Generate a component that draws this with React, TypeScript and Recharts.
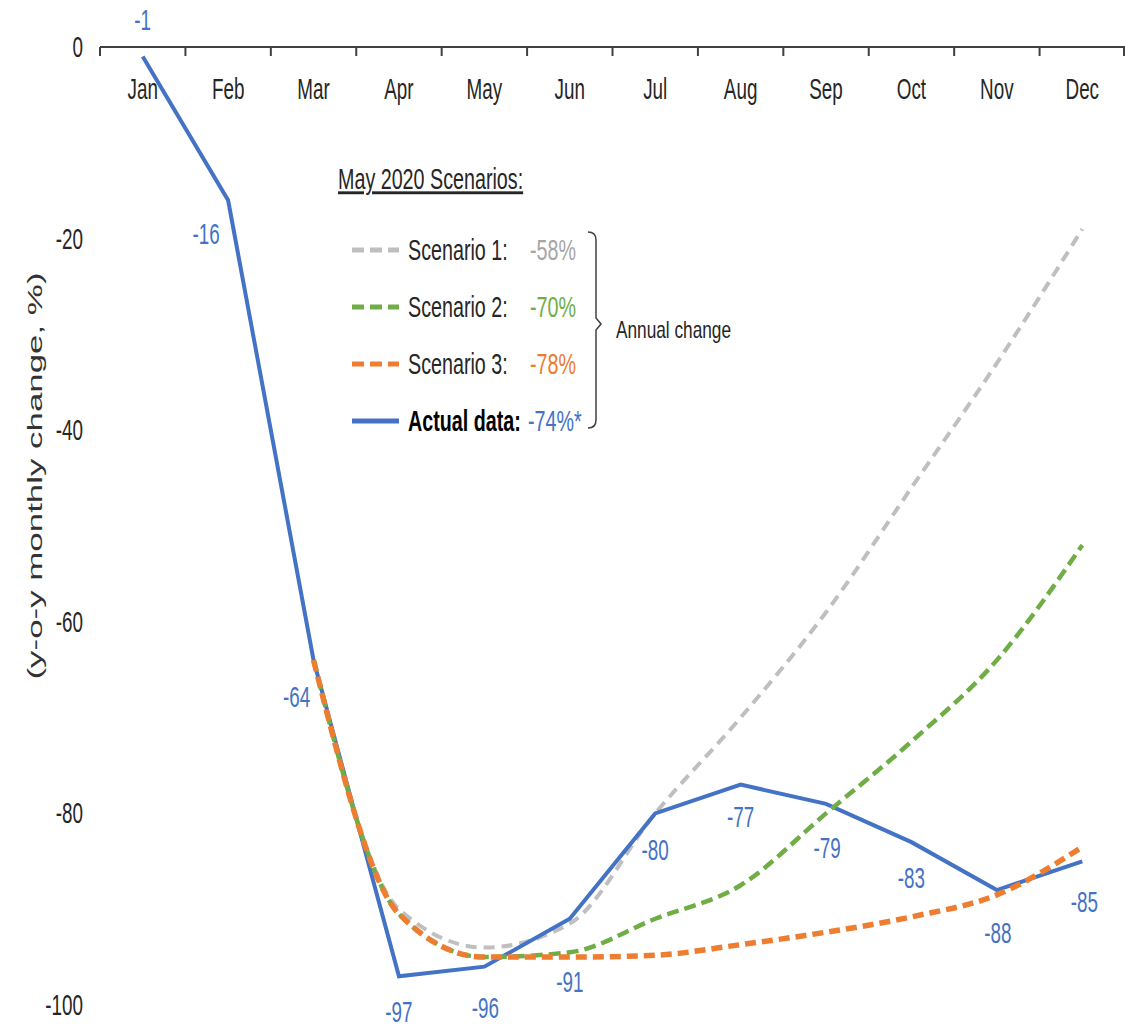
import React from "react"
import { LineChart, Line, XAxis, YAxis, LabelList, Customized } from "recharts"

const MONTHS = ["Jan", "Feb", "Mar", "Apr", "May", "Jun", "Jul", "Aug", "Sep", "Oct", "Nov", "Dec"]
const ACTUAL = [-1, -16, -64, -97, -96, -91, -80, -77, -79, -83, -88, -85]
const SCENARIO_1 = [null, null, -64, -90, -94, -91.5, -80, -70, -59, -46, -33, -19]
const SCENARIO_2 = [null, null, -64, -90.5, -95, -94.5, -91, -87.5, -80, -72.5, -64, -52]
const SCENARIO_3 = [null, null, -64, -90.5, -95, -95, -94.8, -93.7, -92.4, -90.8, -88.5, -83.5]
const ANNUAL_CHANGE = ["-58%", "-70%", "-78%", "-74%*"]
const Y_TICKS = [0, -20, -40, -60, -80, -100]

const W = 1125
const H = 1028
const PLOT_LEFT = 100
const BAND = (W - PLOT_LEFT) / MONTHS.length

const FONT = "'Liberation Sans', Arial, sans-serif"
const BLUE = "#4472C4"
const GREY = "#BFBFBF"
const GREEN = "#70AD47"
const ORANGE = "#ED7D31"
const AXIS = "#404040"

// label offsets (dx, dy) from each actual-data point
const LABEL_OFFSETS: [number, number][] = [
  [0, -37], [-22, 34], [-17, 37], [0, 36], [1, 41], [0, 63],
  [0, 37], [0, 32], [1, 44], [0, 36], [1, 43], [2, 41],
]

const data = MONTHS.map((m, i) => ({
  month: m,
  actual: ACTUAL[i],
  s1: SCENARIO_1[i],
  s2: SCENARIO_2[i],
  s3: SCENARIO_3[i],
}))

const legendRows = [
  { label: "Scenario 1:", color: GREY, valueColor: "#A6A6A6", dash: "12 6", bold: false },
  { label: "Scenario 2:", color: GREEN, valueColor: GREEN, dash: "12 6", bold: false },
  { label: "Scenario 3:", color: ORANGE, valueColor: ORANGE, dash: "12 6", bold: false },
  { label: "Actual data:", color: BLUE, valueColor: BLUE, dash: undefined, bold: true },
]

// condensed text: glyphs squeezed horizontally
function Narrow({ x, y, children, size = 29, sx = 0.65, anchor = "middle", fill = "#262626", weight = 400, baseline, underline }: any) {
  return (
    <text
      transform={`translate(${x},${y}) scale(${sx},1)`}
      textAnchor={anchor}
      fontSize={size}
      fontFamily={FONT}
      fill={fill}
      fontWeight={weight}
      dominantBaseline={baseline}
      style={underline ? { textDecoration: "underline" } : undefined}
    >
      {children}
    </text>
  )
}

function MonthTick(props: any) {
  const { x, y, payload, index } = props
  const left = x - BAND / 2
  return (
    <g>
      <line x1={left} x2={left} y1={y} y2={y + 9} stroke={AXIS} strokeWidth={2} />
      {index === MONTHS.length - 1 && (
        <line x1={x + BAND / 2 - 1} x2={x + BAND / 2 - 1} y1={y} y2={y + 9} stroke={AXIS} strokeWidth={2} />
      )}
      <Narrow x={x} y={y + 52}>{payload.value}</Narrow>
    </g>
  )
}

function ValueTick(props: any) {
  const { x, y, payload } = props
  return (
    <Narrow x={x} y={y} anchor="end" baseline="central">{payload.value}</Narrow>
  )
}

function ActualLabel(props: any) {
  const { x, y, value, index } = props
  const [dx, dy] = LABEL_OFFSETS[index] || [0, 30]
  return (
    <Narrow x={x + dx} y={y + dy} fill={BLUE} baseline="central">{value}</Narrow>
  )
}

function YTitle() {
  return (
    <text
      transform="translate(34,476) rotate(-90)"
      textAnchor="middle"
      dominantBaseline="central"
      fontSize={21}
      fontFamily={FONT}
      fill="#333"
      textLength={407}
      lengthAdjust="spacingAndGlyphs"
    >
      (y-o-y monthly change, %)
    </text>
  )
}

function ScenarioLegend() {
  const top = 250
  const step = 57
  return (
    <g>
      <Narrow x={338} y={189} anchor="start" sx={0.68} underline>May 2020 Scenarios:</Narrow>
      {legendRows.map((r, i) => {
        const cy = top + i * step
        return (
          <g key={r.label}>
            <line x1={352} x2={399} y1={cy} y2={cy} stroke={r.color} strokeWidth={5} strokeDasharray={r.dash} />
            <Narrow x={408} y={cy} anchor="start" sx={0.68} weight={r.bold ? 700 : 400} fill={r.bold ? "#000" : "#262626"} baseline="central">
              {r.label}
            </Narrow>
            <Narrow x={r.bold ? 528 : 530} y={cy} anchor="start" sx={0.68} fill={r.valueColor} baseline="central">
              {ANNUAL_CHANGE[i]}
            </Narrow>
          </g>
        )
      })}
      <path
        d="M588,232 Q596,232 596,240 L596,318 L601,324 L596,330 L596,420 Q596,428 588,428"
        fill="none"
        stroke={AXIS}
        strokeWidth={1.5}
      />
      <Narrow x={616} y={330} anchor="start" size={23} sx={0.75} baseline="central">Annual change</Narrow>
    </g>
  )
}

export default function App() {
  return (
    <div style={{ position: "absolute", left: 0, top: 0, width: W, height: H, background: "#fff" }}>
      <LineChart width={W} height={H} data={data} margin={{ top: 46, right: 0, bottom: 23, left: 0 }}>
        <XAxis
          dataKey="month"
          orientation="top"
          height={1}
          padding={{ left: BAND / 2, right: BAND / 2 }}
          axisLine={{ stroke: AXIS, strokeWidth: 2 }}
          tickLine={false}
          tickSize={0}
          tickMargin={0}
          interval={0}
          tick={<MonthTick />}
        />
        <YAxis
          domain={[-100, 0]}
          ticks={Y_TICKS}
          width={PLOT_LEFT}
          axisLine={false}
          tickLine={false}
          tickSize={0}
          tickMargin={17}
          tick={<ValueTick />}
        />
        <Line
          dataKey="s1"
          type="monotone"
          stroke={GREY}
          strokeWidth={4}
          strokeDasharray="11 7"
          dot={false}
          isAnimationActive={false}
        />
        <Line
          dataKey="actual"
          type="linear"
          stroke={BLUE}
          strokeWidth={4}
          dot={false}
          isAnimationActive={false}
        >
          <LabelList dataKey="actual" content={<ActualLabel />} />
        </Line>
        <Line
          dataKey="s2"
          type="monotone"
          stroke={GREEN}
          strokeWidth={4.5}
          strokeDasharray="12 6"
          dot={false}
          isAnimationActive={false}
        />
        <Line
          dataKey="s3"
          type="monotone"
          stroke={ORANGE}
          strokeWidth={5.5}
          strokeDasharray="11 6"
          dot={false}
          isAnimationActive={false}
        />
        <Customized component={YTitle} />
        <Customized component={ScenarioLegend} />
      </LineChart>
    </div>
  )
}
